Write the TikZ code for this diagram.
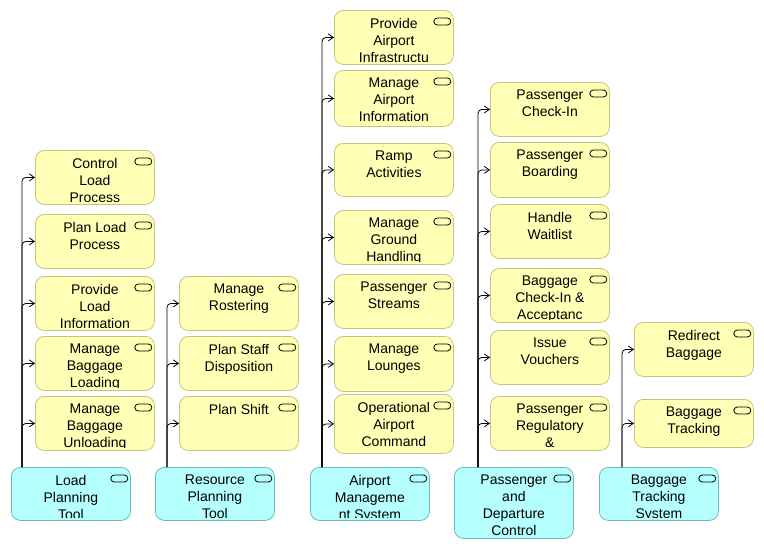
\documentclass[tikz,border=0pt]{standalone}
\usepackage{fontspec}
\setmainfont{Liberation Sans}
\usetikzlibrary{positioning,arrows.meta}
\definecolor{actfill}{RGB}{255,255,181}
\definecolor{actline}{RGB}{196,196,128}
\definecolor{appfill}{RGB}{181,255,255}
\definecolor{appline}{RGB}{112,184,184}
\tikzset{
  act/.style={draw=actline, fill=actfill, rounded corners=9pt, line width=0.8pt,
    minimum width=119pt, minimum height=54pt, inner sep=0pt, anchor=north west},
  app/.style={act, draw=appline, fill=appfill},
  lbl/.style={anchor=north, inner sep=0pt, align=center,
    font=\fontsize{14pt}{17pt}\selectfont},
  icon/.style={draw=black, line width=0.8pt, rounded corners=3.5pt},
  link/.style={-{Straight Barb[length=5pt,width=7pt]}, line width=0.8pt, rounded corners=4pt}
}

\begin{document}
\begin{tikzpicture}[x=1pt, y=-1pt]
          \useasboundingbox (0,0) rectangle (764,549);

          \foreach \nm/\xx/\hh/\txt in {lpt/11/53/{Load\\Planning\\Tool},
            rpt/155/53/{Resource\\Planning\\Tool},
            ams/310/53/{Airport\\Manageme\\nt System},
            pdc/454/71/{Passenger\\and\\Departure\\Control},
            bts/599/53/{Baggage\\Tracking\\System}}{
            \node[app, minimum height=\hh pt] (\nm) at (\xx,467) {};
            \begin{scope}
              \clip ([yshift=3.5pt]\nm.south west) rectangle (\nm.north east);
              \node[lbl] (\nm-t) at ([yshift=-8pt]\nm.north) {\txt};
            \end{scope}
            \draw[icon] ([xshift=-20pt,yshift=-8pt]\nm.north east) rectangle ++(17pt,-7pt);
          }

          \coordinate (t1) at ([xshift=11pt]lpt.north west);
          \coordinate (t2) at ([xshift=12pt]rpt.north west);
          \coordinate (t3) at ([xshift=12pt]ams.north west);
          \coordinate (t4) at ([xshift=24pt]pdc.north west);
          \coordinate (t5) at ([xshift=23pt]bts.north west);

          \foreach \nm/\tr/\xx/\yy/\hh/\txt in {
            cl/t1/35/150/54/{Control\\Load\\Process},
            pl/t1/35/214/54/{Plan Load\\Process},
            pli/t1/35/276/54/{Provide\\Load\\Information},
            mbl/t1/35/336/54/{Manage\\Baggage\\Loading},
            mbu/t1/35/396/54/{Manage\\Baggage\\Unloading},
            mr/t2/179/276/54/{Manage\\Rostering},
            psd/t2/179/336/54/{Plan Staff\\Disposition},
            ps/t2/179/396/54/{Plan Shift},
            pai/t3/334/10/54/{Provide\\Airport\\Infrastructu},
            mai/t3/334/70/56/{Manage\\Airport\\Information},
            ra/t3/334/143/53/{Ramp\\Activities},
            mgh/t3/334/210/54/{Manage\\Ground\\Handling},
            pst/t3/334/274/54/{Passenger\\Streams},
            ml/t3/334/336/55/{Manage\\Lounges},
            oac/t3/334/394/59/{Operational\\Airport\\Command},
            pci/t4/490/82/54/{Passenger\\Check-In},
            pb/t4/490/142/55/{Passenger\\Boarding},
            hw/t4/490/204/54/{Handle\\Waitlist},
            bca/t4/490/268/54/{Baggage\\Check-In \&\\Acceptanc},
            iv/t4/490/330/54/{Issue\\Vouchers},
            pr/t4/490/396/54/{Passenger\\Regulatory\\\&},
            rb/t5/634/322/54/{Redirect\\Baggage},
            bt/t5/634/399/48/{Baggage\\Tracking}}{
            \node[act, minimum height=\hh pt] (\nm) at (\xx,\yy) {};
            \begin{scope}
              \clip ([yshift=3.5pt]\nm.south west) rectangle (\nm.north east);
              \node[lbl] (\nm-t) at ([yshift=-8pt]\nm.north) {\txt};
            \end{scope}
            \draw[icon] ([xshift=-20pt,yshift=-8pt]\nm.north east) rectangle ++(17pt,-7pt);
            \draw[link] (\tr) |- (\nm.west);
          }
        \end{tikzpicture}
\end{document}
